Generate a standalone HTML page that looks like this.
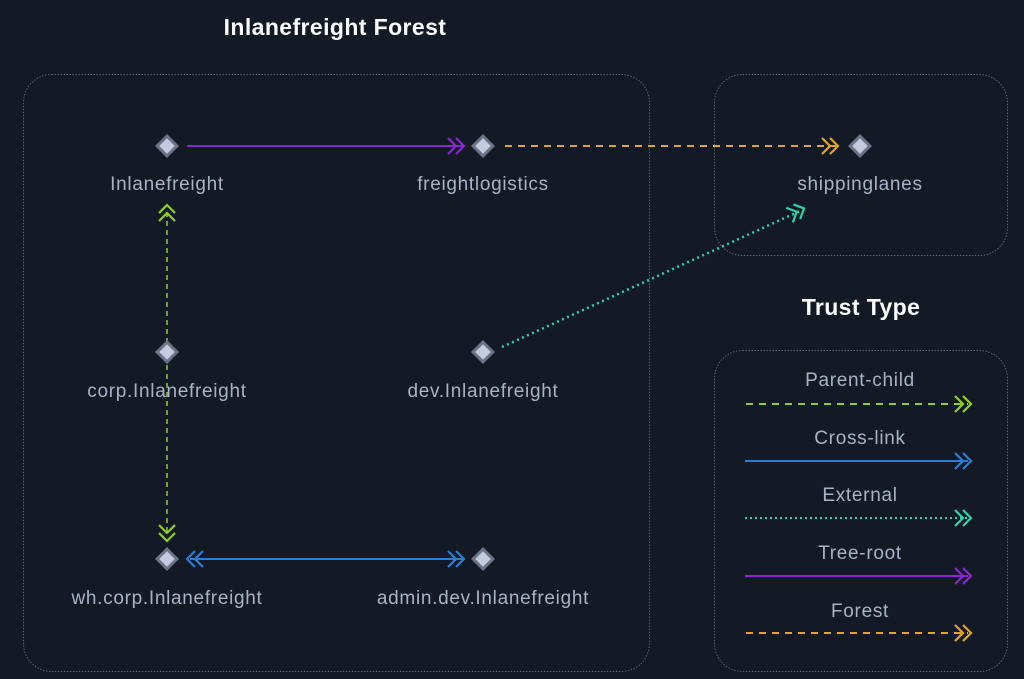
<!DOCTYPE html>
<html><head><meta charset="utf-8"><style>
html,body{margin:0;padding:0;background:#131a26;}
svg{display:block}
text{font-family:"Liberation Sans",sans-serif;}
.lbl{fill:#a9b3c6;font-size:19px;letter-spacing:0.7px;text-anchor:middle;}
.ttl{fill:#ffffff;font-size:23px;font-weight:bold;letter-spacing:0.4px;text-anchor:middle;}
</style></head><body>
<svg width="1024" height="679" viewBox="0 0 1024 679" xmlns="http://www.w3.org/2000/svg">
<defs>
<g id="chev"><path d="M-17,-8 L-9,0 L-17,8 M-9,-8 L-1,0 L-9,8" fill="none" stroke-width="2.2"/></g>
<g id="dia"><rect x="-8.5" y="-8.5" width="17" height="17" fill="#6c7386" transform="rotate(45)"/><rect x="-5.5" y="-5.5" width="11" height="11" fill="#c4cbe0" transform="rotate(45)"/></g>
</defs>
<rect width="1024" height="679" fill="#131a26"/>
<g fill="none" stroke="#5a6170" stroke-width="1" stroke-dasharray="1.5 1.5">
<rect x="23.5" y="74.5" width="626" height="597" rx="28"/>
<rect x="714.5" y="74.5" width="293" height="181" rx="28"/>
<rect x="714.5" y="350.5" width="293" height="321" rx="28"/>
</g>
<text class="ttl" x="335" y="35">Inlanefreight Forest</text>
<text class="ttl" x="861" y="315">Trust Type</text>
<line x1="187" y1="146" x2="463" y2="146" stroke="#8a25d4" stroke-width="2"/>
<use href="#chev" x="465" y="146" stroke="#8a25d4"/>
<line x1="505" y1="146" x2="836" y2="146" stroke="#e3a524" stroke-width="2" stroke-dasharray="7 6"/>
<use href="#chev" x="839" y="146" stroke="#e3a524"/>
<line x1="167" y1="212" x2="167" y2="536" stroke="#8fd11e" stroke-width="1.5" stroke-dasharray="5 4"/>
<use href="#chev" transform="translate(167,204) rotate(-90)" stroke="#8fd11e"/>
<use href="#chev" transform="translate(167,542) rotate(90)" stroke="#8fd11e"/>
<line x1="190" y1="559" x2="463" y2="559" stroke="#2580d8" stroke-width="2"/>
<use href="#chev" x="465" y="559" stroke="#2580d8"/>
<use href="#chev" transform="translate(186,559) rotate(180)" stroke="#2580d8"/>
<line x1="502" y1="347" x2="800" y2="211" stroke="#2ed3a3" stroke-width="2.5" stroke-dasharray="2 3.5"/>
<use href="#chev" transform="translate(805,208) rotate(-24.5)" stroke="#2ed3a3"/>
<use href="#dia" x="167" y="146"/><use href="#dia" x="483" y="146"/><use href="#dia" x="860" y="146"/>
<use href="#dia" x="167" y="352"/><use href="#dia" x="483" y="352"/>
<use href="#dia" x="167" y="559"/><use href="#dia" x="483" y="559"/>
<text class="lbl" x="167" y="190">Inlanefreight</text>
<text class="lbl" x="483" y="190">freightlogistics</text>
<text class="lbl" x="860" y="190">shippinglanes</text>
<text class="lbl" x="167" y="397">corp.Inlanefreight</text>
<text class="lbl" x="483" y="397">dev.Inlanefreight</text>
<text class="lbl" x="167" y="604">wh.corp.Inlanefreight</text>
<text class="lbl" x="483" y="604">admin.dev.Inlanefreight</text>
<text class="lbl" x="860" y="386">Parent-child</text>
<line x1="746" y1="404" x2="968" y2="404" stroke="#8fd11e" stroke-width="2" stroke-dasharray="7 6"/>
<use href="#chev" x="972" y="404" stroke="#8fd11e"/>
<text class="lbl" x="860" y="444">Cross-link</text>
<line x1="745" y1="461" x2="968" y2="461" stroke="#2580d8" stroke-width="2"/>
<use href="#chev" x="972" y="461" stroke="#2580d8"/>
<text class="lbl" x="860" y="501">External</text>
<line x1="745" y1="518" x2="968" y2="518" stroke="#2ed3a3" stroke-width="2" stroke-dasharray="2 3"/>
<use href="#chev" x="972" y="518" stroke="#2ed3a3"/>
<text class="lbl" x="860" y="559">Tree-root</text>
<line x1="745" y1="576" x2="968" y2="576" stroke="#8a25d4" stroke-width="2"/>
<use href="#chev" x="972" y="576" stroke="#8a25d4"/>
<text class="lbl" x="860" y="617">Forest</text>
<line x1="746" y1="633" x2="968" y2="633" stroke="#e3a524" stroke-width="2" stroke-dasharray="7 6"/>
<use href="#chev" x="972" y="633" stroke="#e3a524"/>
</svg>
</body></html>
